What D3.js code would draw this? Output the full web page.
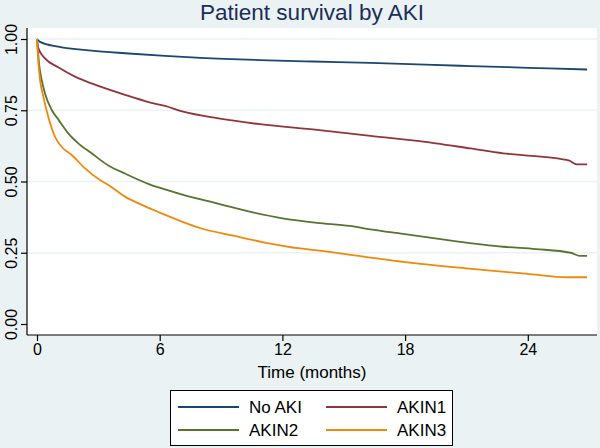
<!DOCTYPE html>
<html><head><meta charset="utf-8">
<script src="https://cdn.jsdelivr.net/npm/d3@7"></script>
<style>html,body{margin:0;padding:0;background:#eaf2f3;}svg{display:block;font-family:"Liberation Sans",Arial,sans-serif;}</style>
</head><body><svg id="c" width="600" height="448"></svg>
<script>
const title = "Patient survival by AKI";
const xTitle = "Time (months)";
const seriesNames = ["No AKI", "AKIN1", "AKIN2", "AKIN3"];
const seriesColors = ["#1a476f", "#90353b", "#55752f", "#f0880e"];
const xTicks = [0, 6, 12, 18, 24];
const yTicks = [0, 0.25, 0.5, 0.75, 1];

const noAkiT = [0,0.15,1.04,2.67,4.3,6.26,8,10.9,13.5,16.3,19,21.2,24,26.9];
const noAkiV = [1,0.990,0.973,0.959,0.950,0.941,0.934,0.926,0.921,0.916,0.910,0.905,0.899,0.893];
const akin1T = [0,0.07,0.39,1.04,1.86,2.67,4.3,5.5,6.26,7.15,8.8,10.9,13.7,16.3,19.5,21.2,22.8,24.5,25.6,26.0,26.4,26.9];
const akin1V = [1,0.967,0.932,0.901,0.868,0.844,0.804,0.778,0.765,0.745,0.722,0.701,0.681,0.660,0.634,0.616,0.599,0.588,0.579,0.574,0.560,0.560];
const akin2T = [0,0.1,0.23,0.39,0.72,1.04,1.53,2.02,2.67,3.49,4.3,5.5,6.26,7.15,8.8,10.4,12.0,13.7,15.3,16.3,17.9,20.0,22.8,24.4,26.1,26.55,26.9];
const akin2V = [1,0.914,0.856,0.809,0.751,0.718,0.669,0.634,0.599,0.556,0.528,0.490,0.472,0.453,0.423,0.394,0.371,0.355,0.344,0.332,0.316,0.295,0.271,0.263,0.250,0.239,0.239];
const akin3T = [0,0.07,0.15,0.31,0.55,0.88,1.2,1.7,2.35,3.08,3.49,4.3,5.12,6.0,8.0,9.6,11.2,12.86,13.7,16.3,18,21,24.1,25.9,26.9];
const akin3V = [1,0.915,0.856,0.798,0.727,0.657,0.622,0.593,0.546,0.505,0.488,0.447,0.418,0.391,0.336,0.310,0.285,0.265,0.258,0.233,0.217,0.195,0.175,0.164,0.164];

const seriesT = [noAkiT, akin1T, akin2T, akin3T];
const seriesV = [noAkiV, akin1V, akin2V, akin3V];

const svg = d3.select("#c");
const plotL = 27, plotR = 597, plotT = 28, plotB = 335;
const x = d3.scaleLinear().domain([0, 24]).range([37, 527.8]);
const y = d3.scaleLinear().domain([0, 1]).range([324, 39]);

svg.append("rect").attr("x",0).attr("y",0).attr("width",600).attr("height",448).attr("fill","#eaf2f3");
svg.append("rect").attr("x",plotL).attr("y",plotT).attr("width",plotR-plotL).attr("height",plotB-plotT).attr("fill","#ffffff");

// grid
svg.append("g").selectAll("line").data(yTicks.filter(d=>d>0)).join("line")
  .attr("x1",plotL).attr("x2",plotR).attr("y1",d=>y(d)).attr("y2",d=>y(d))
  .attr("stroke","#eaf2f3").attr("stroke-width",1.5);

// title
svg.append("text").attr("x",312).attr("y",20).attr("text-anchor","middle")
  .attr("font-size",22.5).attr("fill","#1c2d5a").text(title);

// y axis
const yAxis = svg.append("g").attr("transform",`translate(${plotL},0)`)
  .call(d3.axisLeft(y).tickValues(yTicks).tickFormat(d3.format(".2f")).tickSize(6).tickSizeOuter(0));
yAxis.select(".domain").attr("d",`M0,${plotT}V${plotB}`).attr("stroke","#000").attr("stroke-width",1.2);
yAxis.selectAll(".tick line").attr("stroke","#000").attr("stroke-width",1.2);
yAxis.selectAll(".tick text").attr("transform","rotate(-90)").attr("x",0).attr("y",-10)
  .attr("dy","0").attr("text-anchor","middle").attr("font-size",16).attr("fill","#000")
  .attr("font-family","Liberation Sans, Arial, sans-serif");

// x axis
const xAxis = svg.append("g").attr("transform",`translate(0,${plotB})`)
  .call(d3.axisBottom(x).tickValues(xTicks).tickSize(6).tickSizeOuter(0));
xAxis.select(".domain").attr("d",`M${plotL},0H${plotR}`).attr("stroke","#000").attr("stroke-width",1.2);
xAxis.selectAll(".tick line").attr("stroke","#000").attr("stroke-width",1.2);
xAxis.selectAll(".tick text").attr("y",9).attr("dy","0.71em").attr("font-size",16).attr("fill","#000")
  .attr("font-family","Liberation Sans, Arial, sans-serif");

svg.append("text").attr("x",312).attr("y",378).attr("text-anchor","middle")
  .attr("font-size",17).attr("fill","#000").text(xTitle);

// lines
const line = d3.line().x(d=>x(d[0])).y(d=>y(d[1])).curve(d3.curveMonotoneX);
seriesNames.forEach((n,i)=>{
  const pts = seriesT[i].map((t,j)=>[t, seriesV[i][j]]);
  svg.append("path").datum(pts).attr("d",line).attr("fill","none")
    .attr("stroke",seriesColors[i]).attr("stroke-width",1.8).attr("stroke-linejoin","round");
});

// legend
const lg = svg.append("g");
lg.append("rect").attr("x",170.5).attr("y",390.5).attr("width",282).attr("height",55)
  .attr("fill","#fff").attr("stroke","#000").attr("stroke-width",1);
const colX = [178, 326], rowY = [407, 430];
seriesNames.forEach((n,i)=>{
  const cx = colX[i%2], cy = rowY[Math.floor(i/2)];
  lg.append("line").attr("x1",cx).attr("x2",cx+61).attr("y1",cy).attr("y2",cy)
    .attr("stroke",seriesColors[i]).attr("stroke-width",1.8);
  lg.append("text").attr("x",cx+71).attr("y",cy+6).attr("font-size",17).attr("fill","#000").text(n);
});
</script></body></html>
